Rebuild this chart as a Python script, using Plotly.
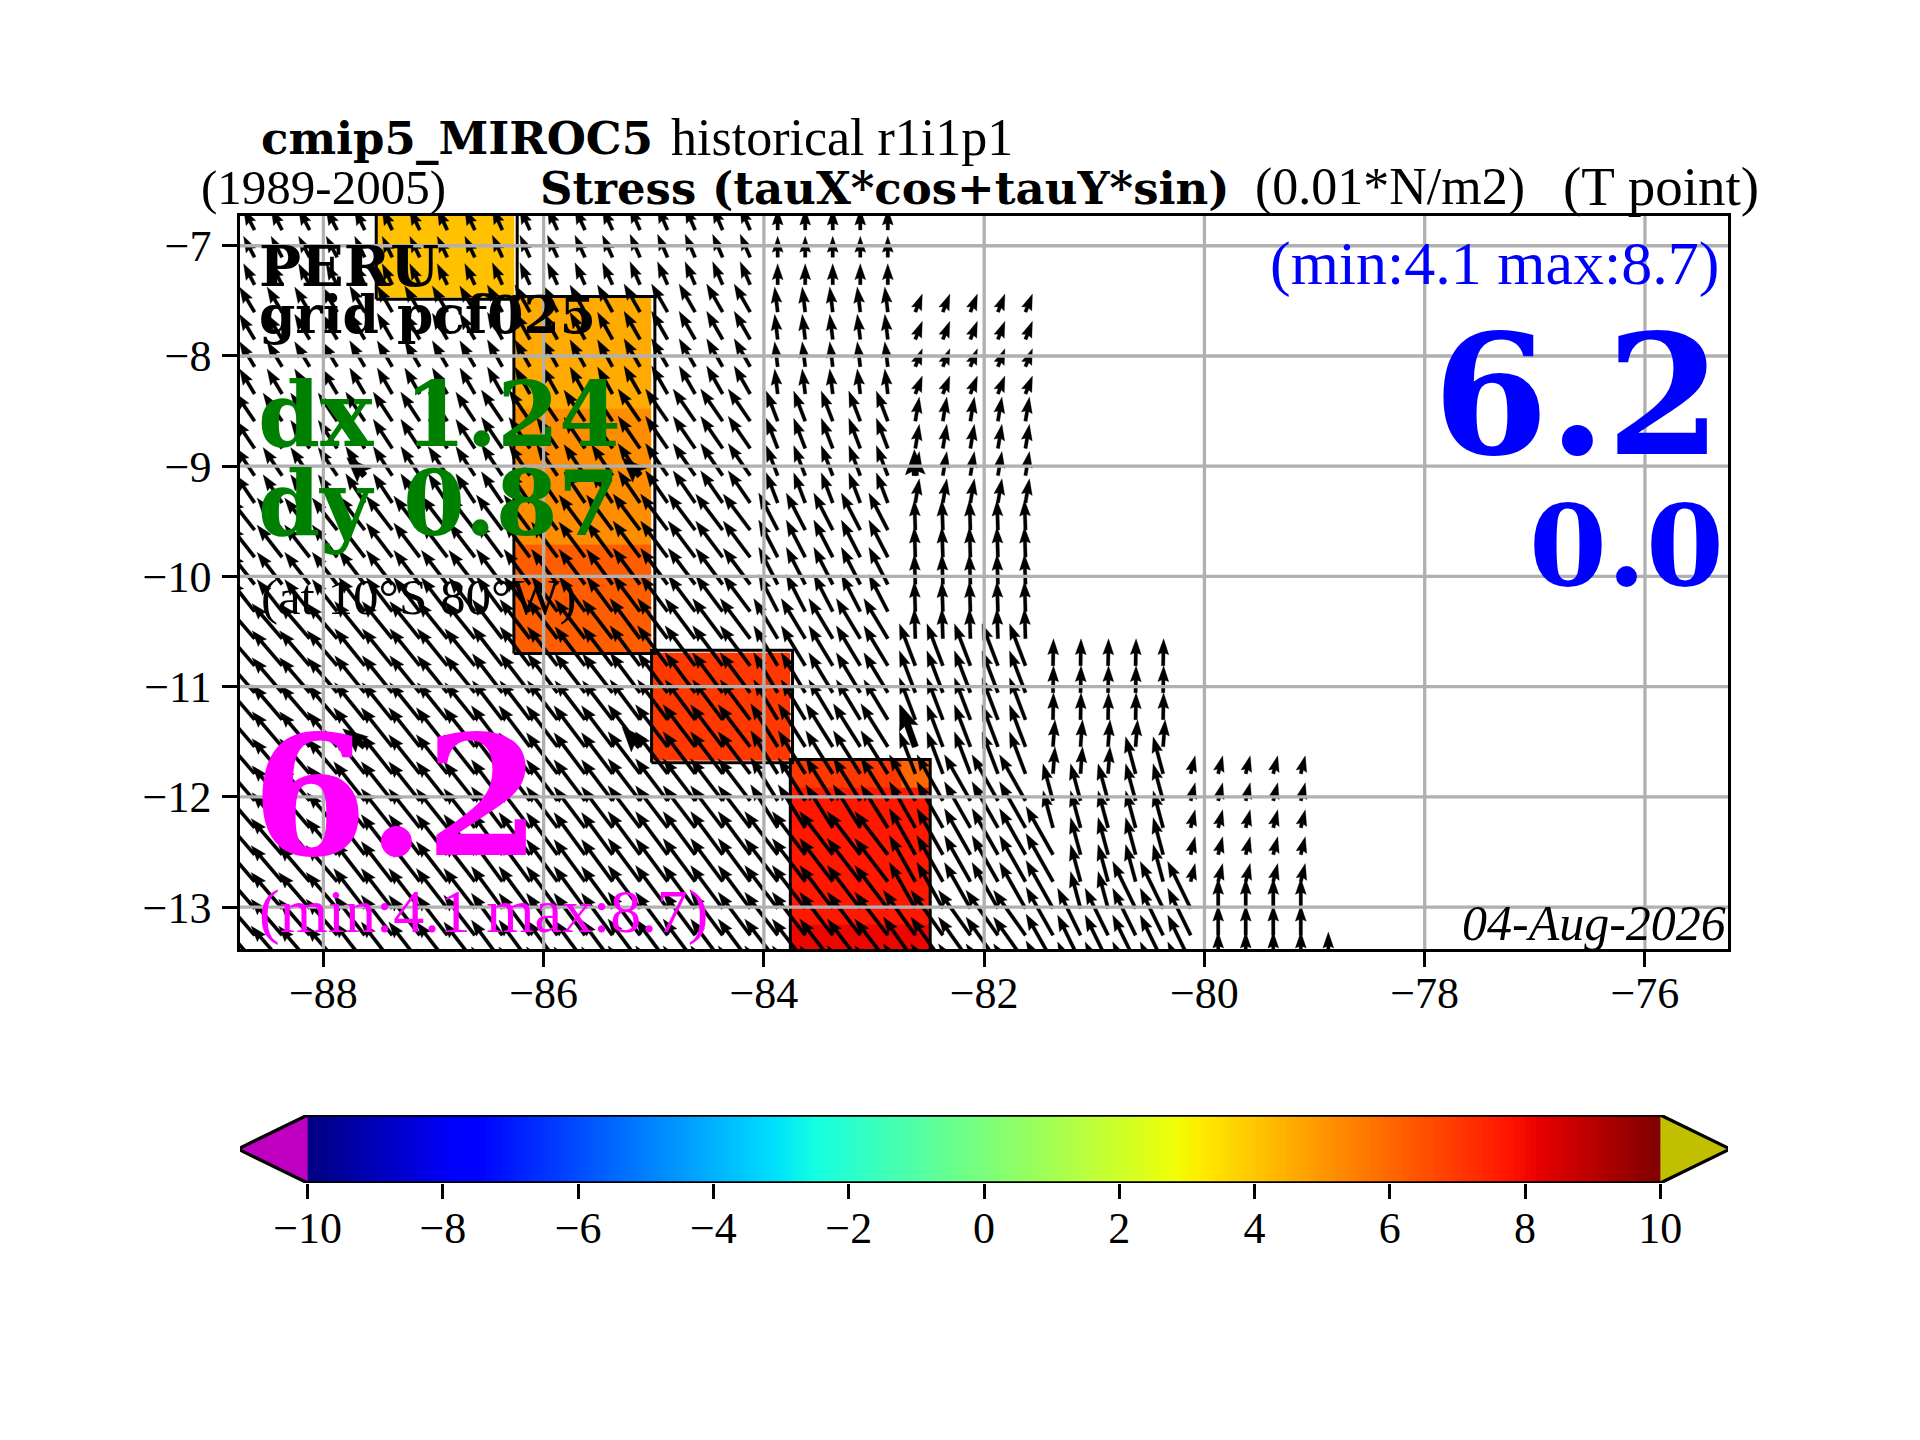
import numpy as np
import plotly.graph_objects as go

# === Axis ranges and ticks ===
lon_range = [-88.757, -75.246]
lat_range = [-13.38, -6.73]
lon_ticks = [-88, -86, -84, -82, -80, -78, -76]
lat_ticks = [-13, -12, -11, -10, -9, -8, -7]
cb_ticks = [-10, -8, -6, -4, -2, 0, 2, 4, 6, 8, 10]

# === Colour cells (0.01 N/m2), south to north ===
cell_lon = [-87.52, -86.27, -85.02, -83.76, -82.75, -82.49]
cell_lat = [-13.6, -13.16, -11.92, -11.67, -10.69, -9.71, -8.48, -7.47, -6.5]
cell_val = [
    [None, None, None, 8.1, 8.1],
    [None, None, None, 7.7, 7.7],
    [None, None, None, 7.0, 6.0],
    [None, None, 7.0, None, None],
    [None, 6.2, None, None, None],
    [None, 5.2, None, None, None],
    [None, 4.6, None, None, None],
    [4.1, None, None, None, None],
]

# cell block outlines
box_w = [-87.52, -86.27, -85.02, -83.76]
box_e = [-86.24, -84.99, -83.74, -82.49]
box_s = [-7.486, -10.70, -11.69, -13.5]
box_n = [-6.5, -7.46, -10.67, -11.66]

# === Stress vectors on the 0.25 degree grid ===
lat_rows = [-6.857, -7.105, -7.353, -7.601, -7.849, -8.097, -8.344, -8.591, -8.838, -9.085,
            -9.332, -9.579, -9.825, -10.072, -10.318, -10.564, -10.81, -11.055, -11.3, -11.545,
            -11.79, -12.035, -12.28, -12.524, -12.768, -13.012, -13.255, -13.499, -13.742, -13.985]
lon_cols = np.arange(-88.875, -78.8, 0.25)

# vectors are constant over model cells: rows r0..r1, columns c0..c1 -> u, v
blk_r0 = [0, 3, 7, 11, 15, 19, 23,
          0, 3, 7, 11, 15, 19, 23,
          0, 3, 7, 11, 15, 19, 23,
          0, 3, 7, 11, 15, 19, 23,
          0, 3, 7, 11, 15, 19, 23,
          3, 7, 11, 16, 21, 26,
          16, 19, 21, 23, 23, 20, 26, 25,
          20, 25, 27]
blk_r1 = [2, 6, 10, 14, 18, 22, 29,
          2, 6, 10, 14, 18, 22, 29,
          2, 6, 10, 14, 18, 22, 29,
          2, 6, 10, 14, 18, 22, 29,
          2, 6, 10, 14, 18, 22, 29,
          6, 10, 15, 20, 25, 29,
          18, 20, 22, 29, 25, 24, 29, 29,
          24, 29, 29]
blk_c0 = [0] * 7 + [5] * 7 + [10] * 7 + [15] * 7 + [20] * 7 + [25] * 6 + \
         [30, 30, 30, 30, 31, 33, 31, 33] + [35, 36, 40]
blk_c1 = [4] * 7 + [9] * 7 + [14] * 7 + [19] * 7 + [24] * 7 + [29] * 6 + \
         [34, 34, 34, 30, 32, 34, 32, 35] + [39, 39, 40]
blk_u = [-1.1, -1.5, -1.9, -2.5, -3.0, -3.0, -3.1,
         -1.0, -1.5, -1.9, -2.6, -3.0, -3.1, -3.1,
         -1.0, -1.5, -2.1, -2.6, -3.0, -3.1, -3.1,
         -1.0, -1.6, -2.2, -2.7, -3.0, -3.2, -3.2,
         0.0, -0.3, -1.15, -1.9, -2.4, -2.7, -3.3,
         0.7, 0.4, -0.1, -1.6, -2.6, -3.2,
         0.05, 0.2, -1.0, -2.7, -1.0, -1.0, -2.3, -2.3,
         0.45, 0.0, 0.0]
blk_v = [2.1, 2.5, 2.8, 3.2, 3.5, 3.5, 3.6,
         2.1, 2.6, 2.9, 3.4, 3.7, 3.9, 4.0,
         2.2, 2.7, 3.1, 3.5, 3.9, 4.1, 4.2,
         2.3, 2.8, 3.2, 3.6, 4.0, 4.2, 4.3,
         2.1, 2.5, 3.0, 3.7, 4.0, 4.3, 4.3,
         1.8, 2.4, 3.0, 4.2, 4.6, 4.5,
         2.7, 2.7, 3.7, 4.8, 3.7, 3.7, 4.7, 4.7,
         1.8, 3.0, 3.0]

# stubby reference arrows drawn over the field
ref_lon = [-87.625, -85.125, -82.625, -87.625, -85.125, -82.625]
ref_lat = [-9.085, -9.085, -9.085, -11.545, -11.545, -11.545]
ref_u = [-1.8, -1.8, -0.1, -2.2, -1.8, -1.5]
ref_v = [1.8, 1.8, 2.6, 1.8, 2.0, 4.2]

# === Layout in pixels (page body adds 8px on the top and left) ===
W, H = 1904, 1424
BODY = 8
ax_l, ax_r, ax_t, ax_b = 240, 1728, 216, 949
cb_t, cb_b = 1115, 1183
CB_TIP = 1.03
PX_PER_DEG = (ax_r - ax_l) / (lon_range[1] - lon_range[0])
PX_PER_UNIT = 10.0
LW = 3.3
SERIF = "Liberation Serif"
BOLD = "DejaVu Serif"


def arrows(lons, lats, us, vs, w=3.4, hw=11.0, hl=16.0, hax=14.4):
    xs, ys = [], []
    for x0, y0, u, v in zip(lons, lats, us, vs):
        L = np.hypot(u, v) * PX_PER_UNIT
        c, s = u * PX_PER_UNIT / L, v * PX_PER_UNIT / L
        k = min(1.0, L / hl)
        px = [0, L - k * hax, L - k * hl, L, L - k * hl, L - k * hax, 0, 0]
        py = [k * w / 2, k * w / 2, k * hw / 2, 0, -k * hw / 2, -k * w / 2, -k * w / 2, k * w / 2]
        for a, b in zip(px, py):
            xs.append(x0 + (a * c - b * s) / PX_PER_DEG)
            ys.append(y0 + (a * s + b * c) / PX_PER_DEG)
        xs.append(None)
        ys.append(None)
    return xs, ys


# expand the cell table to the grid
field = {}
for r0, r1, c0, c1, u, v in zip(blk_r0, blk_r1, blk_c0, blk_c1, blk_u, blk_v):
    for r in range(r0, r1 + 1):
        for c in range(c0, c1 + 1):
            field[(r, c)] = (u, v)
q_lon = [lon_cols[c] for r, c in field]
q_lat = [lat_rows[r] for r, c in field]
q_u = [val[0] for val in field.values()]
q_v = [val[1] for val in field.values()]

# matplotlib jet
jet_t = [0, 0.11, 0.125, 0.34, 0.35, 0.375, 0.64, 0.65, 0.66, 0.89, 0.91, 1]
jet_r = np.interp(jet_t, [0, 0.35, 0.66, 0.89, 1], [0, 0, 1, 1, 0.5])
jet_g = np.interp(jet_t, [0, 0.125, 0.375, 0.64, 0.91, 1], [0, 0, 1, 1, 0, 0])
jet_b = np.interp(jet_t, [0, 0.11, 0.34, 0.65, 1], [0.5, 1, 1, 0, 0])
jet = [[t, f"rgb({int(r*255)},{int(g*255)},{int(b*255)})"] for t, r, g, b in zip(jet_t, jet_r, jet_g, jet_b)]

fig = go.Figure()

# Cells
fig.add_trace(go.Heatmap(x=cell_lon, y=cell_lat, z=cell_val, zmin=-10, zmax=10, colorscale=jet,
                         showscale=False, hoverongaps=False))

# Cell outlines
ox, oy = [], []
for w_, e_, s_, n_ in zip(box_w, box_e, box_s, box_n):
    ox += [w_, e_, e_, w_, w_, None]
    oy += [s_, s_, n_, n_, s_, None]
fig.add_trace(go.Scatter(x=ox, y=oy, mode="lines", line=dict(color="black", width=3), showlegend=False))

# Arrows
ax_, ay_ = arrows(q_lon, q_lat, q_u, q_v)
fig.add_trace(go.Scatter(x=ax_, y=ay_, mode="lines", fill="toself", fillcolor="black",
                         line=dict(color="black", width=0.3), showlegend=False))
rx_, ry_ = arrows(ref_lon, ref_lat, ref_u, ref_v, w=6.6, hw=20.0, hl=25.0, hax=22.0)
fig.add_trace(go.Scatter(x=rx_, y=ry_, mode="lines", fill="toself", fillcolor="black",
                         line=dict(color="black", width=0.3), showlegend=False))

# Grid goes over the arrows
gx, gy = [], []
for t in lon_ticks:
    gx += [t, t, None]
    gy += [lat_range[0], lat_range[1], None]
for t in lat_ticks:
    gx += [lon_range[0], lon_range[1], None]
    gy += [t, t, None]
fig.add_trace(go.Scatter(x=gx, y=gy, mode="lines", line=dict(color="#b0b0b0", width=LW), showlegend=False))

# Colour bar
cb_min, cb_max = cb_ticks[0], cb_ticks[-1]
cb_x = np.linspace(cb_min, cb_max, 256)
fig.add_trace(go.Heatmap(x=cb_x, y=[0, 1], z=[cb_x, cb_x], zmin=cb_min, zmax=cb_max, colorscale=jet,
                         showscale=False, xaxis="x2", yaxis="y2"))
fig.add_trace(go.Scatter(x=[cb_min, cb_min - CB_TIP, cb_min], y=[0, 0.5, 1], mode="lines", fill="toself",
                         fillcolor="#c000c0", line=dict(width=0), cliponaxis=False,
                         xaxis="x2", yaxis="y2", showlegend=False))
fig.add_trace(go.Scatter(x=[cb_max, cb_max + CB_TIP, cb_max], y=[0, 0.5, 1], mode="lines", fill="toself",
                         fillcolor="#c0c000", line=dict(width=0), cliponaxis=False,
                         xaxis="x2", yaxis="y2", showlegend=False))
fig.add_trace(go.Scatter(x=[cb_min, cb_min - CB_TIP, cb_min, cb_max, cb_max + CB_TIP, cb_max, cb_min],
                         y=[0, 0.5, 1, 1, 0.5, 0, 0], mode="lines", cliponaxis=False,
                         line=dict(color="black", width=LW), xaxis="x2", yaxis="y2", showlegend=False))

plot_h = cb_b - ax_t
fig.update_layout(
    width=W, height=H, autosize=False, showlegend=False,
    paper_bgcolor="white", plot_bgcolor="white",
    margin=dict(l=ax_l - BODY, r=W + BODY - ax_r, t=ax_t - BODY, b=H + BODY - cb_b, pad=0),
    font=dict(family=SERIF, size=44, color="black"),
    xaxis=dict(domain=[0, 1], range=lon_range, tickvals=lon_ticks, ticks="outside", ticklen=14.6,
               tickwidth=LW, tickcolor="black", showgrid=False, zeroline=False, showline=True,
               linecolor="black", linewidth=LW, mirror=True, anchor="y", ticklabelstandoff=-12),
    yaxis=dict(domain=[(cb_b - ax_b) / plot_h, 1], range=lat_range, tickvals=lat_ticks, ticks="outside",
               ticklen=14.6, tickwidth=LW, tickcolor="black", showgrid=False, zeroline=False, showline=True,
               linecolor="black", linewidth=LW, mirror=True, anchor="x", ticklabelstandoff=2),
    xaxis2=dict(domain=[0, 1], range=[cb_min - 1, cb_max + 1], tickvals=cb_ticks, ticks="outside", ticklen=14.6,
                tickwidth=LW, tickcolor="black", showgrid=False, zeroline=False, showline=False,
                anchor="y2", ticklabelstandoff=-8),
    yaxis2=dict(domain=[0, (cb_b - cb_t) / plot_h], range=[0, 1], visible=False, anchor="x2"),
)


def note(text, px, baseline, size, color="black", family=SERIF, anchor="left"):
    py = baseline - 0.34 * size
    fig.add_annotation(text=text, xref="paper", yref="paper", x=(px - ax_l) / (ax_r - ax_l),
                       y=(cb_b - py) / plot_h, xanchor=anchor, yanchor="middle", showarrow=False,
                       borderpad=0, font=dict(family=family, size=size, color=color))


# Titles
note("<b>cmip5_MIROC5</b>", 260, 154, 45, family=BOLD)
note("historical r1i1p1", 670, 155, 52)
note("(1989-2005)", 200, 204, 49)
note("<b>Stress (tauX*cos+tauY*sin)</b>", 539, 204, 45, family=BOLD)
note("(0.01*N/m2)", 1254, 205, 52)
note("(T point)", 1562, 205, 55)

# Left text block
note("<b>PERU</b>", 258, 285, 56, family=BOLD)
note("<b>grid pcf025</b>", 258, 332, 52, family=BOLD)
note("<b>dx 1.24</b>", 257, 445, 89, "#008000", BOLD)
note("<b>dy 0.87</b>", 257, 534, 89, "#008000", BOLD)
note("(at 10°S 80°W)", 260, 614, 51)
note("<b>6.2</b>", 251, 853, 166, "#ff00ff", BOLD)
note("(min:4.1 max:8.7)", 258, 933, 62, "#ff00ff")

# Right text block
note("(min:4.1 max:8.7)", 1720, 285, 62, "#0000ff", anchor="right")
note("<b>6.2</b>", 1723, 452, 166, "#0000ff", BOLD, "right")
note("<b>0.0</b>", 1725, 584, 112, "#0000ff", BOLD, "right")
note("<i>04-Aug-2026</i>", 1727, 940, 50, anchor="right")

fig.write_html("out.html")
